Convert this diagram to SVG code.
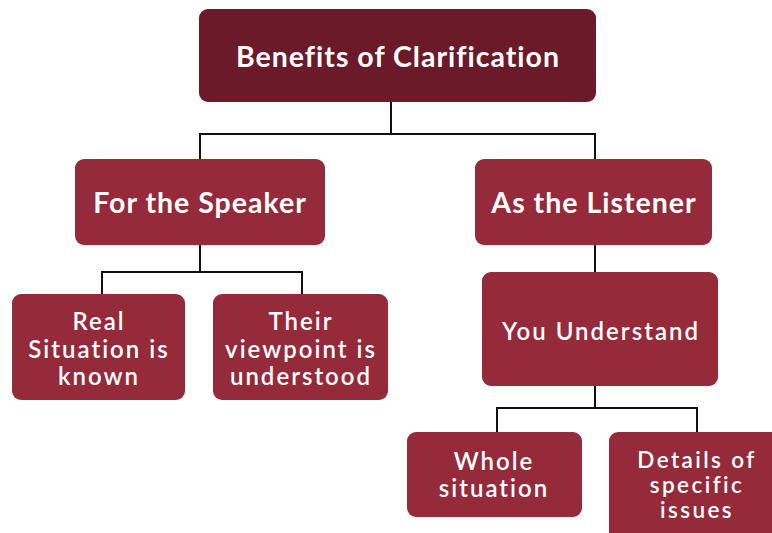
<svg xmlns="http://www.w3.org/2000/svg" width="772" height="533" viewBox="0 0 772 533">
  <style>
    .box { fill: #952a3b; }
    .root { fill: #6b1a2a; }
    .lbl { fill: #ffffff; font-family: Lato, "Open Sans", "Liberation Sans", sans-serif; text-anchor: middle; }
    .big { font-size: 28.5px; font-weight: 700; letter-spacing: 1px; }
    .mid { font-size: 24px; font-weight: 600; letter-spacing: 2px; }
    .tight { font-size: 22.5px; letter-spacing: 2.4px; }
    .wire { fill: none; stroke: #111111; stroke-width: 2; }
  </style>
  <rect width="772" height="533" fill="#ffffff"/>

  <g id="connectors">
    <path class="wire" d="M391 102 V134 M200 160 V134 H595 V160"/>
    <path class="wire" d="M200 245 V272 M102 294 V272 H302 V294"/>
    <path class="wire" d="M595 245 V272"/>
    <path class="wire" d="M595 386 V408 M497 432 V408 H697 V432"/>
  </g>

  <g id="benefits">
    <rect class="root" x="199" y="9" width="397" height="93" rx="9"/>
    <text class="lbl big" x="398" y="67">Benefits of Clarification</text>
  </g>

  <g id="speaker">
    <rect class="box" x="75" y="159" width="250" height="86" rx="9"/>
    <text class="lbl big" x="200" y="213">For the Speaker</text>
  </g>

  <g id="listener">
    <rect class="box" x="475" y="159" width="237" height="86" rx="9"/>
    <text class="lbl big" x="594" y="213">As the Listener</text>
  </g>

  <g id="real-situation">
    <rect class="box" x="12" y="294" width="173" height="106" rx="9"/>
    <text class="lbl mid" x="99" y="330">Real</text>
    <text class="lbl mid" x="99" y="358">Situation is</text>
    <text class="lbl mid" x="99" y="385">known</text>
  </g>

  <g id="viewpoint">
    <rect class="box" x="213" y="294" width="175" height="106" rx="9"/>
    <text class="lbl mid" x="301" y="330">Their</text>
    <text class="lbl mid" x="301" y="358">viewpoint is</text>
    <text class="lbl mid" x="301" y="385">understood</text>
  </g>

  <g id="you-understand">
    <rect class="box" x="482" y="272" width="236" height="114" rx="9"/>
    <text class="lbl mid" x="601" y="340">You Understand</text>
  </g>

  <g id="whole-situation">
    <rect class="box" x="407" y="432" width="175" height="85" rx="9"/>
    <text class="lbl mid" x="494" y="470">Whole</text>
    <text class="lbl mid" x="494" y="497">situation</text>
  </g>

  <g id="details">
    <rect class="box" x="609" y="432" width="175" height="115" rx="9"/>
    <text class="lbl mid tight" x="697" y="468">Details of</text>
    <text class="lbl mid tight" x="697" y="493">specific</text>
    <text class="lbl mid tight" x="697" y="518">issues</text>
  </g>
</svg>
